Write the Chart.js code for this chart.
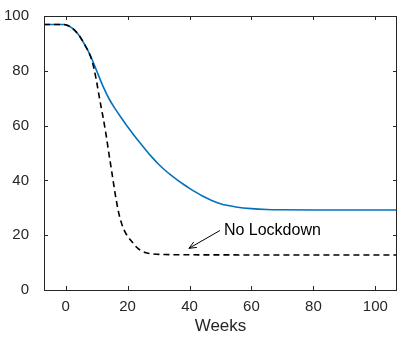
<!DOCTYPE html>
<html>
<head>
<meta charset="utf-8">
<script src="https://cdn.jsdelivr.net/npm/chart.js@4.4.1/dist/chart.umd.min.js"></script>
<style>
    body { margin: 0; background: #fff; }
    canvas { display: block; }
</style>
</head>
<body>
<canvas id="chart" width="398" height="339"></canvas>
<script>
// weeks and % values
const lockdownWeeks = [-7, -1, 0, 2, 4, 6, 8, 10, 12, 14, 16, 18, 20, 22, 24, 26, 28, 30, 32, 34, 36, 38, 40, 42, 44, 46, 48, 50, 52, 55, 60, 65, 70, 80, 90, 107];
const lockdownValues = [96.9, 96.9, 96.8, 95.7, 93.4, 89.8, 85.5, 80, 74.5, 69.8, 66.1, 62.8, 59.6, 56.6, 53.7, 50.9, 48.3, 45.9, 43.8, 41.9, 40.2, 38.6, 37.1, 35.7, 34.4, 33.3, 32.3, 31.5, 30.9, 30.3, 29.7, 29.4, 29.3, 29.2, 29.2, 29.2];

const noLockdownWeeks = [-7, -1, 0, 2, 4, 6, 8, 9, 10, 11, 12, 13, 14, 15, 16, 17, 18, 19, 20, 21, 22, 23, 24, 26, 28, 32, 40, 60, 107];
const noLockdownValues = [96.9, 96.9, 96.8, 95.7, 93.4, 89.8, 85.3, 81.5, 76, 69.5, 63.5, 57, 49.5, 42.3, 35, 28.8, 24.5, 21.6, 19.6, 18.2, 16.8, 15.5, 14.6, 13.6, 13.2, 12.95, 12.85, 12.8, 12.8];

const xTicks = [0, 20, 40, 60, 80, 100];
const yTicks = [0, 20, 40, 60, 80, 100];

const axisColor = '#262626';
const tickLen = 4;

// arrow tail / tip and label anchor, in data units
const annotation = { text: 'No Lockdown', tail: [49.8, 21.7], tip: [39.8, 15.2], label: [51.1, 21.5] };

function toPoints(xs, ys) {
    return xs.map((x, i) => ({ x: x, y: ys[i] }));
}

// MATLAB style box with inward ticks + the arrow annotation
const boxPlugin = {
    id: 'box',
    afterDraw(chart) {
        const { ctx, chartArea: a, scales } = chart;
        ctx.save();
        ctx.strokeStyle = axisColor;
        ctx.lineWidth = 1;
        ctx.beginPath();
        ctx.rect(a.left + 0.5, a.top + 0.5, a.right - a.left - 1, a.bottom - a.top);
        ctx.stroke();

        ctx.beginPath();
        xTicks.forEach(v => {
            const px = Math.round(scales.x.getPixelForValue(v)) + 0.5;
            ctx.moveTo(px, a.bottom);
            ctx.lineTo(px, a.bottom - tickLen);
            ctx.moveTo(px, a.top);
            ctx.lineTo(px, a.top + tickLen);
        });
        yTicks.forEach(v => {
            const py = Math.round(scales.y.getPixelForValue(v)) + 0.5;
            ctx.moveTo(a.left, py);
            ctx.lineTo(a.left + tickLen, py);
            ctx.moveTo(a.right, py);
            ctx.lineTo(a.right - tickLen, py);
        });
        ctx.stroke();

        // arrow
        const tx = scales.x.getPixelForValue(annotation.tail[0]);
        const ty = scales.y.getPixelForValue(annotation.tail[1]);
        const hx = scales.x.getPixelForValue(annotation.tip[0]);
        const hy = scales.y.getPixelForValue(annotation.tip[1]);
        ctx.strokeStyle = '#000';
        ctx.beginPath();
        ctx.moveTo(tx, ty);
        ctx.lineTo(hx, hy);
        const ang = Math.atan2(hy - ty, hx - tx);
        const headLen = 8;
        ctx.moveTo(hx - headLen * Math.cos(ang - 0.4), hy - headLen * Math.sin(ang - 0.4));
        ctx.lineTo(hx, hy);
        ctx.lineTo(hx - headLen * Math.cos(ang + 0.4), hy - headLen * Math.sin(ang + 0.4));
        ctx.stroke();

        ctx.fillStyle = '#000';
        ctx.font = '16px "Liberation Sans", Arial, sans-serif';
        ctx.textAlign = 'left';
        ctx.textBaseline = 'middle';
        ctx.fillText(annotation.text,
            scales.x.getPixelForValue(annotation.label[0]),
            scales.y.getPixelForValue(annotation.label[1]));
        ctx.restore();
    }
};

Chart.defaults.font.family = '"Liberation Sans", Arial, sans-serif';
Chart.defaults.font.size = 15;
Chart.defaults.color = axisColor;

const chart = new Chart(document.getElementById('chart'), {
    type: 'line',
    data: {
        datasets: [
            {
                data: toPoints(lockdownWeeks, lockdownValues),
                borderColor: '#0072BD',
                borderWidth: 1.6,
                pointRadius: 0,
                cubicInterpolationMode: 'monotone',
                order: 2
            },
            {
                data: toPoints(noLockdownWeeks, noLockdownValues),
                borderColor: '#000000',
                borderWidth: 1.6,
                borderDash: [6, 4],
                pointRadius: 0,
                cubicInterpolationMode: 'monotone',
                order: 1
            }
        ]
    },
    options: {
        responsive: false,
        animation: false,
        layout: { padding: { top: 14, right: 1, left: 0, bottom: 0 } },
        plugins: {
            legend: { display: false },
            tooltip: { enabled: false }
        },
        scales: {
            x: {
                type: 'linear',
                min: -7,
                max: 107,
                grid: { display: false, drawTicks: false },
                border: { display: false },
                afterBuildTicks: (scale) => { scale.ticks = xTicks.map(v => ({ value: v })); },
                afterFit: (scale) => { scale.height = 49; },
                ticks: { padding: 8, maxRotation: 0, color: axisColor },
                title: {
                    display: true,
                    text: 'Weeks',
                    color: axisColor,
                    font: { size: 17 },
                    padding: { top: 0, bottom: 2 }
                }
            },
            y: {
                min: 0,
                max: 100,
                grid: { display: false },
                border: { display: false },
                afterBuildTicks: (scale) => { scale.ticks = yTicks.map(v => ({ value: v })); },
                afterFit: (scale) => { scale.width = 44; },
                ticks: { padding: 7, color: axisColor }
            }
        }
    },
    plugins: [boxPlugin]
});
</script>
</body>
</html>
